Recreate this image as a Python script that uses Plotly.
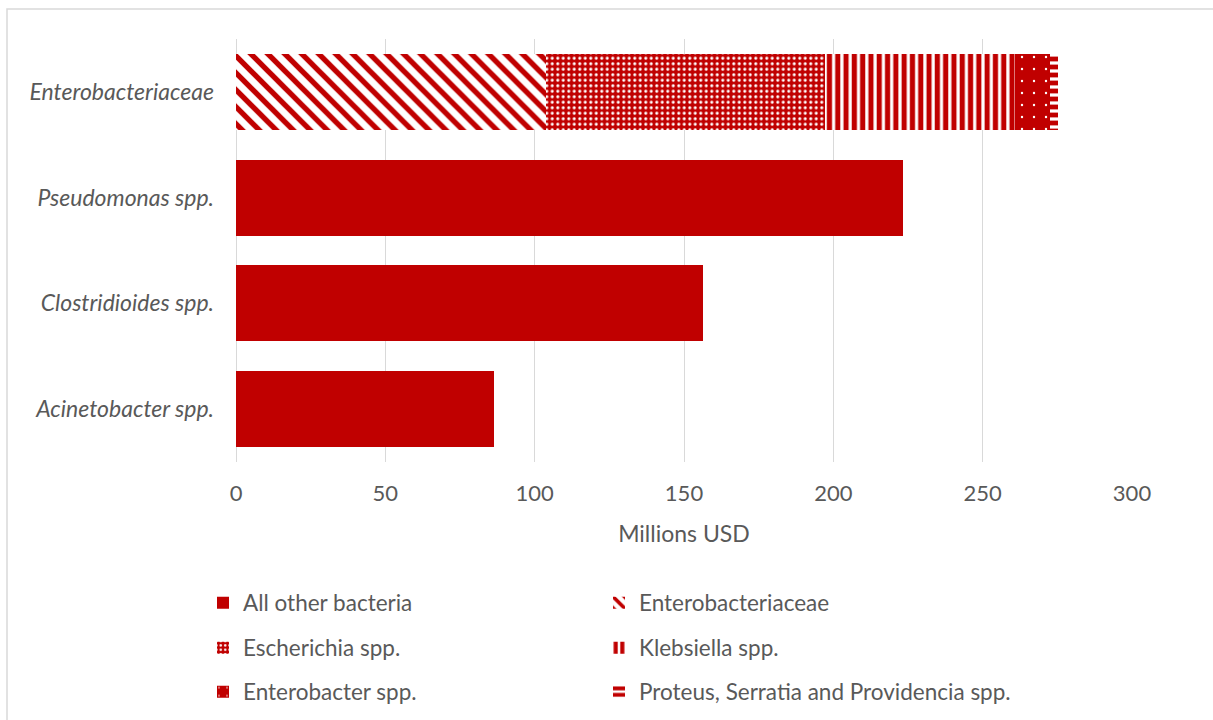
import plotly.graph_objects as go

# Annual cost attributed to each pathogen group (millions USD)
categories = ["Enterobacteriaceae", "Pseudomonas spp.", "Clostridioides spp.", "Acinetobacter spp."]
other_groups = ["Pseudomonas spp.", "Clostridioides spp.", "Acinetobacter spp."]
other_values = [223.3, 156.3, 86.4]

entero_parts = ["Enterobacteriaceae", "Escherichia spp.", "Klebsiella spp.",
                "Enterobacter spp.", "Proteus, Serratia and Providencia spp."]
entero_values = [103.8, 93.4, 63.6, 11.7, 2.7]

x_ticks = [0, 50, 100, 150, 200, 250, 300]

RED = "#C00000"
GREY_TEXT = "#595959"
FONT = "Lato, Carlito, Calibri, sans-serif"

W, H = 1213, 720
L, R, T, B = 236, 81, 39, 258
PW, PH = W - L - R, H - T - B


def px_x(p):
    return (p - L) / PW


def px_y(p):
    return (H - B - p) / PH


patterns = [
    dict(shape="\\", size=12, solidity=0.45, fgcolor=RED, bgcolor="white", fillmode="replace"),
    dict(shape=".", size=5.5, solidity=0.25, fgcolor="white", bgcolor=RED, fillmode="replace"),
    dict(shape="|", size=8.3, solidity=0.62, fgcolor=RED, bgcolor="white", fillmode="replace"),
    dict(shape=".", size=12, solidity=0.03, fgcolor="white", bgcolor=RED, fillmode="replace"),
    dict(shape="-", size=8, solidity=0.6, fgcolor=RED, bgcolor="white", fillmode="replace"),
]

fig = go.Figure()

fig.add_trace(go.Bar(
    name="All other bacteria", y=other_groups, x=other_values, orientation="h",
    marker=dict(color=RED, line=dict(width=0)), legend="legend",
    hovertemplate="%{y}: %{x}<extra></extra>",
))

legend_ids = ["legend2", "legend3", "legend4", "legend5", "legend6"]
for name, val, pat, lid in zip(entero_parts, entero_values, patterns, legend_ids):
    fig.add_trace(go.Bar(
        name=name, y=[categories[0]], x=[val], orientation="h",
        marker=dict(color=RED, pattern=pat, line=dict(width=0)), legend=lid,
        hovertemplate=name + ": %{x}<extra></extra>",
    ))

# Two-column legend: one legend box per entry
col_x = [px_x(203), px_x(599)]
row_y = [px_y(603), px_y(648), px_y(692)]
legend_layout = {}
all_ids = ["legend"] + legend_ids
for i, lid in enumerate(all_ids):
    legend_layout[lid] = dict(
        x=col_x[i % 2], y=row_y[i // 2], xanchor="left", yanchor="middle",
        orientation="h", bgcolor="rgba(0,0,0,0)", borderwidth=0,
        font=dict(family=FONT, size=22.5, color=GREY_TEXT), itemwidth=30,
    )

fig.update_layout(
    width=W, height=H,
    margin=dict(l=L, r=R, t=T, b=B, autoexpand=False),
    paper_bgcolor="white", plot_bgcolor="white",
    barmode="stack", bargap=0.28,
    font=dict(family=FONT, size=22, color=GREY_TEXT),
    showlegend=True,
    xaxis=dict(
        range=[0, 300], tickvals=x_ticks, showgrid=True, gridcolor="#D9D9D9", gridwidth=1,
        zeroline=True, zerolinecolor="#D9D9D9", zerolinewidth=1, showline=False,
        ticks="", ticklabelstandoff=16,
        tickfont=dict(family=FONT, size=22, color=GREY_TEXT),
        title=dict(text="Millions USD", standoff=20,
                   font=dict(family=FONT, size=23, color=GREY_TEXT)),
        fixedrange=True,
    ),
    yaxis=dict(
        categoryorder="array", categoryarray=categories[::-1],
        tickvals=categories,
        ticktext=["<i>" + c + "</i>" for c in categories],
        showgrid=False, zeroline=False, showline=False, ticks="", ticklabelstandoff=21,
        tickfont=dict(family=FONT, size=23, color=GREY_TEXT),
        fixedrange=True,
    ),
    shapes=[dict(
        type="rect", xref="paper", yref="paper",
        x0=px_x(7), x1=px_x(1225), y0=px_y(740), y1=px_y(9),
        line=dict(color="#D9D9D9", width=1.5), fillcolor="rgba(0,0,0,0)", layer="below",
    )],
    **legend_layout,
)

fig.write_html("out.html", config={"displayModeBar": False})
